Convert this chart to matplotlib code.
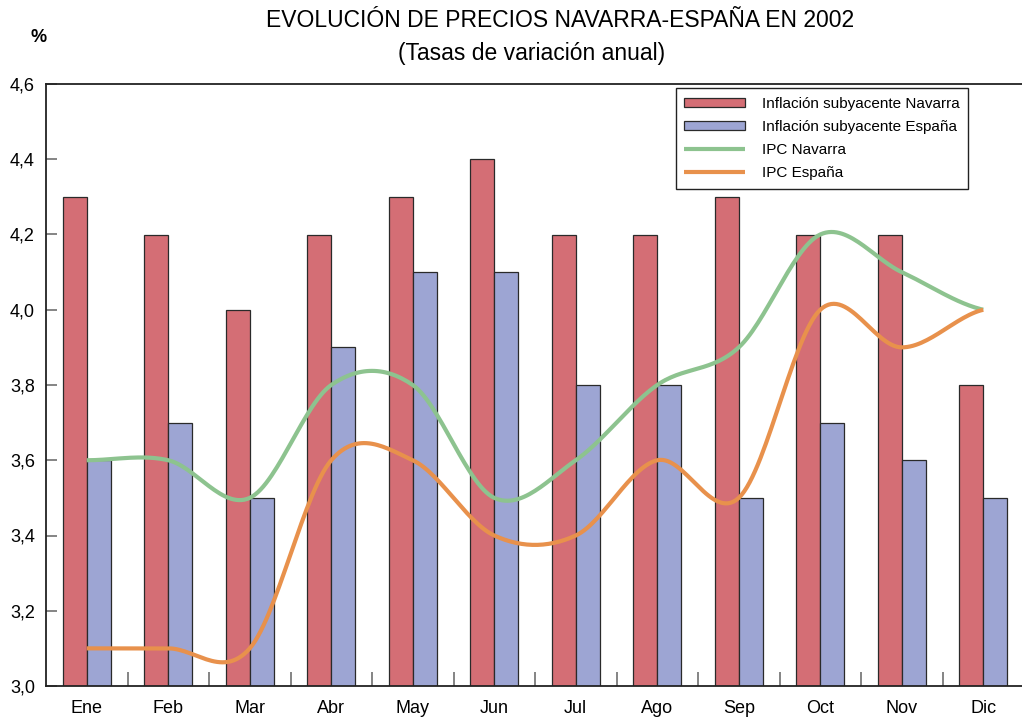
import numpy as np
import matplotlib.pyplot as plt
from matplotlib.ticker import FixedLocator, FuncFormatter

plt.rcParams['font.family'] = ['Liberation Sans', 'DejaVu Sans']

meses = ['Ene', 'Feb', 'Mar', 'Abr', 'May', 'Jun', 'Jul', 'Ago', 'Sep', 'Oct', 'Nov', 'Dic']
subyacente_navarra = [4.3, 4.2, 4.0, 4.2, 4.3, 4.4, 4.2, 4.2, 4.3, 4.2, 4.2, 3.8]
subyacente_espana = [3.6, 3.7, 3.5, 3.9, 4.1, 4.1, 3.8, 3.8, 3.5, 3.7, 3.6, 3.5]
ipc_navarra = [3.6, 3.6, 3.5, 3.8, 3.8, 3.5, 3.6, 3.8, 3.9, 4.2, 4.1, 4.0]
ipc_espana = [3.1, 3.1, 3.1, 3.6, 3.6, 3.4, 3.4, 3.6, 3.5, 4.0, 3.9, 4.0]


def smooth(y, n=30):
    # curva suavizada tipo Excel (Catmull-Rom) que pasa por los puntos
    y = np.asarray(y, dtype=float)
    yp = np.concatenate([[y[0]], y, [y[-1]]])
    xs, ys = [], []
    for i in range(len(y) - 1):
        p0, p1 = yp[i + 1], yp[i + 2]
        m0 = (yp[i + 2] - yp[i]) / 2
        m1 = (yp[i + 3] - yp[i + 1]) / 2
        t = np.linspace(0, 1, n, endpoint=(i == len(y) - 2))
        h00 = 2 * t**3 - 3 * t**2 + 1
        h10 = t**3 - 2 * t**2 + t
        h01 = -2 * t**3 + 3 * t**2
        h11 = t**3 - t**2
        xs.append(i + t)
        ys.append(h00 * p0 + h10 * m0 + h01 * p1 + h11 * m1)
    return np.concatenate(xs), np.concatenate(ys)


fig = plt.figure(figsize=(10.22, 7.19), dpi=100)
ax = fig.add_axes([46 / 1022, 33 / 719, 978 / 1022, 602 / 719])

x = np.arange(len(meses))
w = 0.295
b1 = ax.bar(x - w / 2, subyacente_navarra, w, color='#d46e75', edgecolor='#2a2a2a',
            linewidth=0.9, label='Inflación subyacente Navarra', zorder=2)
b2 = ax.bar(x + w / 2, subyacente_espana, w, color='#9da5d3', edgecolor='#2a2a2a',
            linewidth=0.9, label='Inflación subyacente España', zorder=2)

xs, ys = smooth(ipc_navarra)
l1, = ax.plot(xs, ys, color='#8dc38f', lw=3, label='IPC Navarra', zorder=3, solid_capstyle='butt')
xs, ys = smooth(ipc_espana)
l2, = ax.plot(xs, ys, color='#e8914c', lw=3, label='IPC España', zorder=3, solid_capstyle='butt')

ax.set_xlim(-0.5, 11.5)
ax.set_ylim(3.0, 4.6)
ax.set_yticks(np.arange(3.0, 4.61, 0.2))
ax.yaxis.set_major_formatter(FuncFormatter(lambda v, p: f'{v:.1f}'.replace('.', ',')))
ax.set_xticks(x)
ax.set_xticklabels(meses)
ax.xaxis.set_minor_locator(FixedLocator(np.arange(0.5, 11, 1)))
ax.tick_params(axis='x', which='major', length=0, pad=10, labelsize=13)
ax.tick_params(axis='x', which='minor', direction='in', length=10, width=1.2, color='#707070')
ax.tick_params(axis='y', direction='in', length=8, width=1.2, color='#707070', pad=8, labelsize=13)

for s in ['left', 'bottom', 'top']:
    ax.spines[s].set_linewidth(1.3)
    ax.spines[s].set_color('#222222')
ax.spines['right'].set_visible(False)

handles = [b1, b2, l1, l2]
leg = ax.legend(handles, [h.get_label() for h in handles],
                loc='upper right', bbox_to_anchor=(0.943, 0.993), borderaxespad=0,
                fancybox=False, edgecolor='#222222', framealpha=1,
                handlelength=4.0, handleheight=0.55, handletextpad=1.1,
                borderpad=0.55, labelspacing=0.6, fontsize=11)
leg.get_frame().set_linewidth(1.0)

fig.text(0.548, 0.972, 'EVOLUCIÓN DE PRECIOS NAVARRA-ESPAÑA EN 2002', ha='center', va='center', fontsize=16.5)
fig.text(0.520, 0.926, '(Tasas de variación anual)', ha='center', va='center', fontsize=16.5)
fig.text(0.038, 0.948, '%', ha='center', va='center', fontsize=13, fontweight='bold')

fig.savefig('out.png', dpi=100)
